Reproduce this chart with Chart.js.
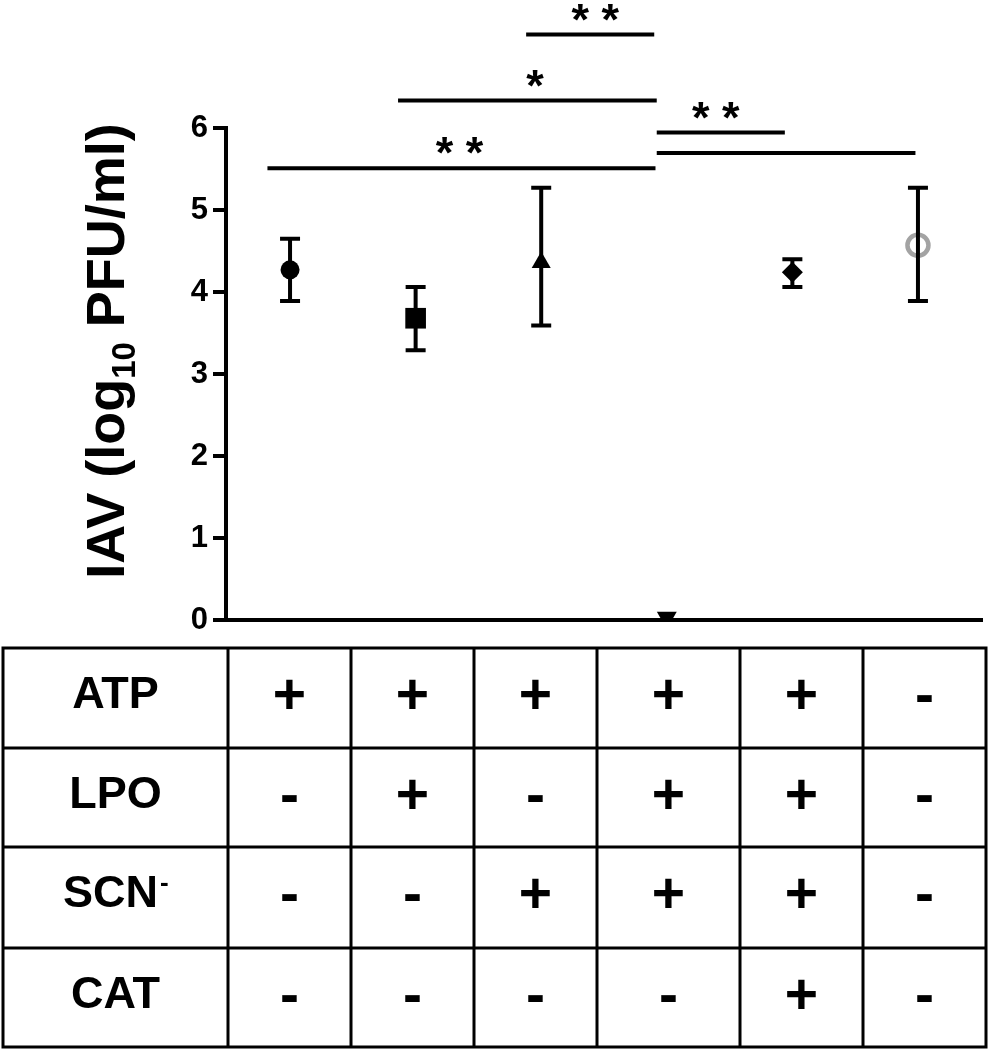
<!DOCTYPE html>
<html>
<head>
<meta charset="utf-8">
<script src="https://cdn.jsdelivr.net/npm/chart.js@4.4.1/dist/chart.umd.min.js"></script>
<style>
  html, body { margin: 0; padding: 0; background: #fff; }
  canvas { display: block; }
</style>
</head>
<body>
<canvas id="chart" width="989" height="1050"></canvas>
<script>
// values (log10 PFU/ml)
const groupX = [1, 2, 3, 4, 5, 6];
const meanVal = [4.27, 3.68, 4.36, 0.03, 4.24, 4.57];
const errHigh = [4.65, 4.06, 5.27, null, 4.40, 5.27];
const errLow = [3.89, 3.29, 3.59, null, 4.06, 3.89];
const yTicks = [0, 1, 2, 3, 4, 5, 6];

// significance bars
const sigFrom = [2.88, 1.86, 0.82, 3.92, 3.92];
const sigTo = [3.90, 3.92, 3.91, 4.94, 5.98];
const sigLevel = [7.14, 6.335, 5.51, 5.945, 5.695];
const sigText = ['* *', '*', '* *', '* *', ''];
const sigTextX = [3.43, 2.95, 2.35, 4.39, null];

// treatment table
const rowNames = ['ATP', 'LPO', 'SCN', 'CAT'];
const atpRow = ['+', '+', '+', '+', '+', '-'];
const lpoRow = ['-', '+', '-', '+', '+', '-'];
const scnRow = ['-', '-', '+', '+', '+', '-'];
const catRow = ['-', '-', '-', '-', '+', '-'];
const tableRows = [atpRow, lpoRow, scnRow, catRow];

const FONT = '"Liberation Sans", Arial, Helvetica, sans-serif';

<!-- error bars -->
const errorBarPlugin = {
    id: 'errorBars',
    afterDatasetsDraw(chart) {
        const ctx = chart.ctx;
        const xs = chart.scales.x, ys = chart.scales.y;
        ctx.save();
        ctx.strokeStyle = '#000';
        ctx.lineWidth = 4;
        ctx.lineCap = 'butt';
        for (let i = 0; i < groupX.length; i++) {
            if (errHigh[i] == null) continue;
            const px = xs.getPixelForValue(groupX[i]);
            const top = ys.getPixelForValue(errHigh[i]);
            const bot = ys.getPixelForValue(errLow[i]);
            ctx.beginPath();
            ctx.moveTo(px, top); ctx.lineTo(px, bot);
            ctx.moveTo(px - 10, top); ctx.lineTo(px + 10, top);
            ctx.moveTo(px - 10, bot); ctx.lineTo(px + 10, bot);
            ctx.stroke();
        }
        ctx.restore();
    }
};

<!-- brackets, table, y title -->
const extrasPlugin = {
    id: 'extras',
    afterDraw(chart) {
        const ctx = chart.ctx;
        const xs = chart.scales.x, ys = chart.scales.y;
        ctx.save();

        // significance lines
        ctx.strokeStyle = '#000';
        ctx.fillStyle = '#000';
        ctx.lineWidth = 4;
        ctx.font = 'bold 45px ' + FONT;
        ctx.textAlign = 'center';
        ctx.textBaseline = 'alphabetic';
        for (let i = 0; i < sigFrom.length; i++) {
            const py = ys.getPixelForValue(sigLevel[i]);
            ctx.beginPath();
            ctx.moveTo(xs.getPixelForValue(sigFrom[i]), py);
            ctx.lineTo(xs.getPixelForValue(sigTo[i]), py);
            ctx.stroke();
            if (sigText[i]) {
                ctx.fillText(sigText[i], xs.getPixelForValue(sigTextX[i]), py);
            }
        }

        // y axis title with subscript
        ctx.save();
        ctx.translate(124, 351);
        ctx.rotate(-Math.PI / 2);
        ctx.textAlign = 'left';
        const big = 'bold 54px ' + FONT, small = 'bold 33px ' + FONT;
        const p1 = 'IAV (log', p2 = '10', p3 = ' PFU/ml)';
        ctx.font = big;
        const w1 = ctx.measureText(p1).width, w3 = ctx.measureText(p3).width;
        ctx.font = small;
        const w2 = ctx.measureText(p2).width;
        let x0 = -(w1 + w2 + w3) / 2;
        ctx.font = big; ctx.fillText(p1, x0, 0);
        ctx.font = small; ctx.fillText(p2, x0 + w1, 11);
        ctx.font = big; ctx.fillText(p3, x0 + w1 + w2, 0);
        ctx.restore();

        // table
        const colEdges = [3, 228, 351, 474, 597, 740, 863, 986];
        const rowEdges = [648, 748, 847, 948, 1047];
        ctx.lineWidth = 3;
        ctx.beginPath();
        colEdges.forEach(cx => { ctx.moveTo(cx, rowEdges[0] - 1.5); ctx.lineTo(cx, rowEdges[rowEdges.length - 1] + 1.5); });
        rowEdges.forEach(ry => { ctx.moveTo(colEdges[0], ry); ctx.lineTo(colEdges[colEdges.length - 1], ry); });
        ctx.stroke();

        ctx.textAlign = 'center';
        for (let r = 0; r < rowNames.length; r++) {
            const top = rowEdges[r];
            const cx0 = (colEdges[0] + colEdges[1]) / 2;
            ctx.font = 'bold 45px ' + FONT;
            if (rowNames[r] === 'SCN') {
                const w = ctx.measureText('SCN').width;
                ctx.textAlign = 'left';
                ctx.fillText('SCN', cx0 - w / 2 - 5, top + 60);
                ctx.font = 'bold 26px ' + FONT;
                ctx.fillText('-', cx0 + w / 2 - 3, top + 44);
                ctx.textAlign = 'center';
            } else {
                ctx.fillText(rowNames[r], cx0, top + 60);
            }
            ctx.font = 'bold 57px ' + FONT;
            tableRows[r].forEach((s, c) => {
                const cx = (colEdges[c + 1] + colEdges[c + 2]) / 2;
                ctx.fillText(s, cx, top + 66);
            });
        }
        ctx.restore();
    }
};

const chart = new Chart(document.getElementById('chart'), {
    type: 'scatter',
    data: {
        datasets: [{
            data: groupX.map((x, i) => ({x: x, y: meanVal[i]})),
            showLine: false,
            pointStyle: ['circle', 'rect', 'triangle', 'triangle', 'rectRot', 'circle'],
            pointRadius: [9.5, 14.6, 11, 11.5, 10.5, 10.5],
            pointRotation: [0, 0, 0, 180, 0, 0],
            pointBackgroundColor: ['#000', '#000', '#000', '#000', '#000', 'rgba(0,0,0,0)'],
            pointBorderColor: ['#000', '#000', '#000', '#000', '#000', '#a3a3a3'],
            pointBorderWidth: [0, 0, 0, 0, 0, 4.5],
            clip: {left: false, top: false, right: false, bottom: 0}
        }]
    },
    options: {
        responsive: false,
        animation: false,
        events: [],
        layout: {
            autoPadding: false,
            padding: {left: 0, top: 128, right: 7, bottom: 430}
        },
        plugins: {
            legend: {display: false},
            tooltip: {enabled: false}
        },
        scales: {
            x: {
                type: 'linear',
                min: 0.49,
                max: 6.51,
                ticks: {display: false},
                grid: {drawOnChartArea: false, drawTicks: false},
                border: {display: true, color: '#000', width: 4},
                afterFit: s => { s.height = 0; }
            },
            y: {
                min: 0,
                max: 6,
                afterBuildTicks: s => { s.ticks = yTicks.map(v => ({value: v})); },
                ticks: {
                    color: '#000',
                    padding: 5,
                    font: {family: FONT, size: 31, weight: 'bold'}
                },
                grid: {
                    drawOnChartArea: false,
                    drawTicks: true,
                    tickLength: 13,
                    tickWidth: 4,
                    tickColor: '#000',
                    lineWidth: 4,
                    color: '#000'
                },
                border: {display: true, color: '#000', width: 4},
                afterFit: s => { s.width = 226; }
            }
        }
    },
    plugins: [errorBarPlugin, extrasPlugin]
});
</script>
</body>
</html>
